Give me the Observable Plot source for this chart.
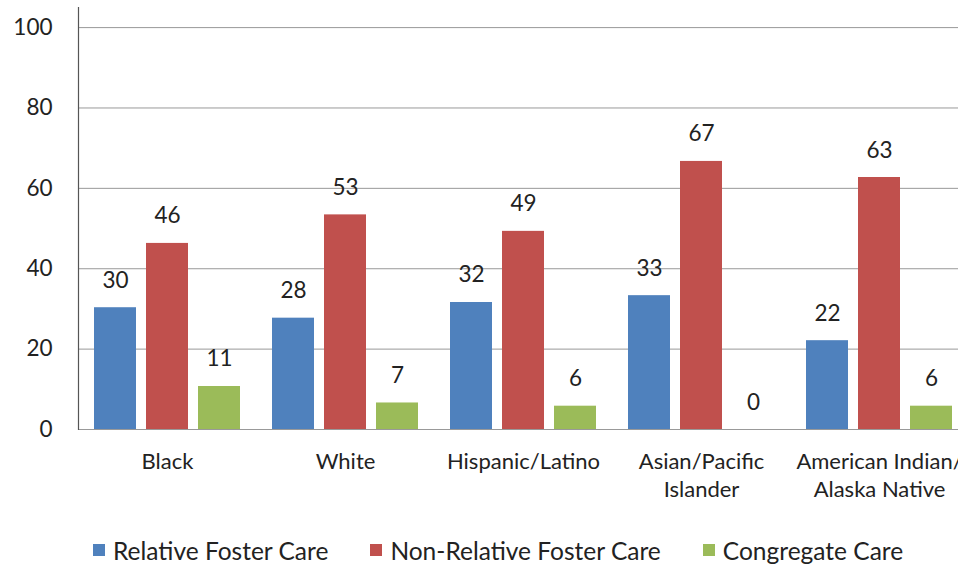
<!DOCTYPE html>
<html>
<head>
<meta charset="utf-8">
<script src="https://cdn.jsdelivr.net/npm/d3@7"></script>
<script src="https://cdn.jsdelivr.net/npm/@observablehq/plot@0.6"></script>
<style>
  html, body { margin: 0; padding: 0; background: #fff; overflow: hidden; }
  #chart { width: 958px; height: 564px; position: relative; font-family: Lato, "Noto Sans", sans-serif; }
  #chart svg { display: block; }
  #legend { height: 40px; padding-left: 93px; display: flex; align-items: center; }
  .lg-swatches { margin: 0 !important; min-height: 0 !important; font-family: Lato, sans-serif; font-size: 24.5px; color: #222; }
  .lg-swatch { margin-right: 42px !important; }
  .lg-swatch > svg { margin-right: 8px !important; }
</style>
</head>
<body>
<div id="chart"></div>
<script>
const groups = ["Black", "White", "Hispanic/Latino", "Asian/Pacific\nIslander", "American Indian/\nAlaska Native"];
const series = ["Relative Foster Care", "Non-Relative Foster Care", "Congregate Care"];
const relativeFoster = [30.3, 27.7, 31.6, 33.3, 22.1];
const nonRelativeFoster = [46.3, 53.4, 49.3, 66.7, 62.7];
const congregateCare = [10.7, 6.6, 5.8, 0, 5.8];
const seriesColors = ["#4F81BD", "#C0504D", "#9BBB59"];
const yTicks = [0, 20, 40, 60, 80, 100];

const valuesBySeries = [relativeFoster, nonRelativeFoster, congregateCare];
const data = [];
groups.forEach((g, i) => {
  series.forEach((s, j) => {
    data.push({group: g, series: s, value: valuesBySeries[j][i]});
  });
});

const font = "Lato, 'Noto Sans', sans-serif";

const plot = Plot.plot({
  width: 958,
  height: 530,
  marginTop: 7,
  marginLeft: 78,
  marginRight: -10,
  marginBottom: 101,
  style: {fontFamily: font, fontSize: "22.5px", color: "#222", background: "#fff"},
  fx: {domain: groups, paddingInner: 0, paddingOuter: 0, axis: null},
  x: {domain: series, paddingInner: 0.2, paddingOuter: 0.295, axis: null},
  y: {domain: [0, 105], axis: null},
  color: {domain: series, range: seriesColors},
  marks: [
    Plot.gridY(yTicks, {stroke: "#999", strokeOpacity: 1, strokeWidth: 1}),
    Plot.barY(data, {fx: "group", x: "series", y: "value", fill: "series"}),
    Plot.text(data, {
      fx: "group", x: "series", y: "value",
      text: d => d3.format(".0f")(d.value),
      lineAnchor: "bottom", dy: -20, fontSize: 22.5, fill: "#222"
    }),
    Plot.frame({anchor: "left", facetAnchor: "left", stroke: "#555", strokeWidth: 1.2}),
    Plot.axisY(yTicks, {tickSize: 0, tickPadding: 26, fontSize: 22.5, label: null, fill: "#222"}),
    Plot.axisFx({anchor: "bottom", tickSize: 0, tickPadding: 19, fontSize: 22, lineHeight: 1.3, label: null, fill: "#222"})
  ]
});

const legend = Plot.legend({
  color: {domain: series, range: seriesColors},
  swatchSize: 12,
  className: "lg"
});

const chart = document.getElementById("chart");
chart.appendChild(plot);
const lg = document.createElement("div");
lg.id = "legend";
lg.appendChild(legend);
chart.appendChild(lg);
</script>
</body>
</html>
